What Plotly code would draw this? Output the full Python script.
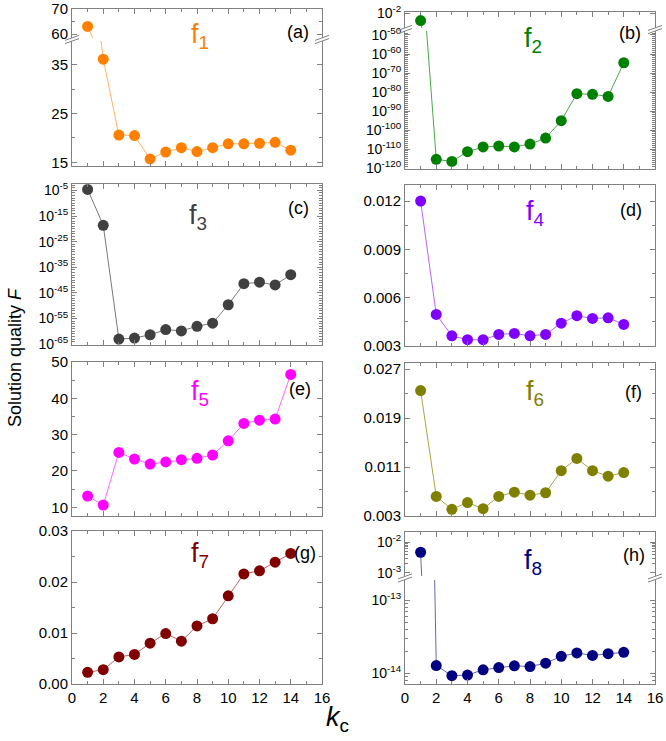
import plotly.graph_objects as go

W, H = 666, 741

# ---------------- data ----------------
k = list(range(1, 15))
f1 = [63.1, 36.2, 20.6, 20.5, 15.7, 17.1, 18.0, 17.2, 18.0, 18.8, 18.8, 18.9, 19.1, 17.5]
f2 = [1e-6, 4e-116, 3e-117, 4e-112, 1.3e-109, 4e-109, 1.3e-109, 4e-108, 6e-105, 8e-96,
      1.3e-81, 6e-82, 5e-83, 2.5e-65]
f3 = [2.5e-5, 2.5e-19, 1e-63, 2.5e-63, 5e-62, 5e-60, 1.6e-60, 1e-58, 1.6e-57, 2.5e-50,
      4e-42, 1.6e-41, 1.3e-42, 1.3e-38]
f4 = [0.0120, 0.00496, 0.00363, 0.00339, 0.00339, 0.00372, 0.00378, 0.00363, 0.00372,
      0.00442, 0.00488, 0.00471, 0.00475, 0.00434]
f5 = [13.1, 10.6, 25.1, 23.3, 21.9, 22.5, 23.1, 23.5, 24.4, 28.3, 33.1, 34.0, 34.3, 46.6]
f6 = [0.0235, 0.0062, 0.0041, 0.0052, 0.0042, 0.0062, 0.0069, 0.0064, 0.0068, 0.0104,
      0.0124, 0.0104, 0.0095, 0.0101]
f7 = [0.0023, 0.0028, 0.0053, 0.0058, 0.0080, 0.0099, 0.0084, 0.0114, 0.0128, 0.0173,
      0.0216, 0.0222, 0.0239, 0.0256]
f8 = [4.7e-3, 1.27e-14, 0.92e-14, 0.94e-14, 1.11e-14, 1.19e-14, 1.26e-14, 1.23e-14,
      1.37e-14, 1.70e-14, 1.89e-14, 1.75e-14, 1.85e-14, 1.93e-14]

panel_names = ["f<sub>1</sub>", "f<sub>2</sub>", "f<sub>3</sub>", "f<sub>4</sub>",
               "f<sub>5</sub>", "f<sub>6</sub>", "f<sub>7</sub>", "f<sub>8</sub>"]
panel_tags = ["(a)", "(b)", "(c)", "(d)", "(e)", "(f)", "(g)", "(h)"]
colors = ["#FF8000", "#008000", "#404040", "#8000FF", "#FF00FF", "#808000", "#800000", "#000080"]
line_colors = ["rgba(255,128,0,0.6)", "rgba(0,128,0,0.7)", "rgba(64,64,64,0.7)",
               "rgba(128,0,255,0.6)", "rgba(255,0,255,0.6)", "rgba(128,128,0,0.7)",
               "rgba(128,0,0,0.6)", "rgba(0,0,128,0.6)"]

x_tickvals = [0, 2, 4, 6, 8, 10, 12, 14, 16]

# ---------------- helpers ----------------
AX = "#808080"
FONT = "Liberation Sans, Arial, sans-serif"
LIN_FONT = dict(size=15, color="black", family=FONT)
LOG_FONT = dict(size=14, color="black", family=FONT)


def fx(p):
    return p / W


def fy(p):
    return 1 - p / H


fig = go.Figure()
layout = {}
counter = [0]


def sup_label(e):
    return "10<sup>%d</sup>" % e


def add_axes(xpx, ypx, yopts, xopts, series, idx, clip=True):
    counter[0] += 1
    i = counter[0]
    xa = "xaxis" if i == 1 else "xaxis%d" % i
    ya = "yaxis" if i == 1 else "yaxis%d" % i
    xr = "x" if i == 1 else "x%d" % i
    yr = "y" if i == 1 else "y%d" % i
    bx = dict(domain=[fx(xpx[0]), fx(xpx[1])], anchor=yr, range=[0, 16], automargin=False,
              showgrid=False, zeroline=False, showline=True, linecolor=AX, linewidth=1,
              ticks="inside", ticklen=5, tickcolor=AX, tickmode="array",
              tickvals=x_tickvals, mirror="ticks", ticklabeloverflow="allow",
              minor=dict(tickmode="linear", tick0=0, dtick=1, ticks="inside", ticklen=3, tickcolor=AX),
              showticklabels=False, tickfont=LIN_FONT)
    bx.update(xopts)
    by = dict(domain=[fy(ypx[1]), fy(ypx[0])], anchor=xr, showgrid=False, zeroline=False,
              automargin=False, showline=True, mirror="ticks", linecolor=AX, linewidth=1,
              ticks="inside", ticklen=5, tickcolor=AX, tickfont=LIN_FONT,
              ticklabeloverflow="allow")
    by.update(yopts)
    layout[xa] = bx
    layout[ya] = by
    fig.add_trace(go.Scatter(x=k, y=series, xaxis=xr, yaxis=yr, mode="lines+markers",
                             line=dict(color=line_colors[idx], width=1),
                             marker=dict(color=colors[idx], size=11),
                             cliponaxis=clip, showlegend=False, hoverinfo="x+y"))


def minor_arr(vals):
    return dict(tickmode="array", tickvals=vals, ticks="inside", ticklen=3, tickcolor=AX)


LX = (72, 322)
RX = (405, 655)
top_x = dict(side="top", mirror=False)
bot_x = dict(mirror=False)
bottom_labels = dict(showticklabels=True)

# (a) broken linear
add_axes(LX, (9, 38), dict(range=[58.5, 70.02], tickmode="array", tickvals=[60, 70],
                           minor=minor_arr([65])), top_x, f1, 0)
add_axes(LX, (41, 166), dict(range=[14.24, 39.93], tickmode="array", tickvals=[15, 25, 35],
                             minor=minor_arr([20, 30])), bot_x, f1, 0)

# (b) broken log
add_axes(RX, (12, 28), dict(type="log", range=[-9.9, -1.47], tickmode="array",
                            tickvals=[1e-2], ticktext=[sup_label(-2)], tickfont=LOG_FONT),
         top_x, f2, 1)
b_major = [-50, -60, -70, -80, -90, -100, -110, -120]
add_axes(RX, (31, 169), dict(type="log", range=[-120.5, -47.9], tickmode="array",
                             tickvals=[10.0 ** e for e in b_major],
                             ticktext=[sup_label(e) for e in b_major], tickfont=LOG_FONT,
                             minor=minor_arr([10.0 ** e for e in range(-120, -47)])),
         bot_x, f2, 1)

# (c) log
c_major = [-5, -15, -25, -35, -45, -55, -65]
add_axes(LX, (184, 345), dict(type="log", range=[-65.3, -2.5], tickmode="array",
                              tickvals=[10.0 ** e for e in c_major],
                              ticktext=[sup_label(e) for e in c_major], tickfont=LOG_FONT,
                              minor=minor_arr([10.0 ** e for e in range(-65, -2)])),
         {}, f3, 2, clip=False)

# (d)
add_axes(RX, (185, 346), dict(range=[0.003, 0.013], tickmode="array",
                              tickvals=[0.003, 0.006, 0.009, 0.012], tickformat=".3f",
                              minor=minor_arr([0.0045, 0.0075, 0.0105])),
         {}, f4, 3, clip=False)

# (e)
add_axes(LX, (362, 516), dict(range=[7.6, 50.02], tickmode="array",
                              tickvals=[10, 20, 30, 40, 50],
                              minor=minor_arr([15, 25, 35, 45])),
         {}, f5, 4, clip=False)

# (f)
add_axes(RX, (363, 516), dict(range=[0.003, 0.028], tickmode="array",
                              tickvals=[0.003, 0.011, 0.019, 0.027], tickformat=".3f",
                              minor=minor_arr([0.007, 0.015, 0.023])),
         {}, f6, 5, clip=False)

# (g)
add_axes(LX, (531, 684), dict(range=[0, 0.03001], tickmode="array",
                              tickvals=[0, 0.01, 0.02, 0.03], tickformat=".2f",
                              minor=minor_arr([0.005, 0.015, 0.025])),
         bottom_labels, f7, 6, clip=False)

# (h) broken log
h_up_minor = [m * 1e-3 for m in range(2, 10)] + [2e-2]
add_axes(RX, (532, 576), dict(type="log", range=[-3.1, -1.67], tickmode="array",
                              tickvals=[1e-2, 1e-3], ticktext=[sup_label(-2), sup_label(-3)],
                              tickfont=LOG_FONT, minor=minor_arr(h_up_minor)),
         top_x, f8, 7)
h_lo_minor = [m * 1e-15 for m in (8, 9)] + [m * 1e-14 for m in range(2, 10)] + [2e-13]
add_axes(RX, (580, 684), dict(type="log", range=[-14.15, -12.72], tickmode="array",
                              tickvals=[1e-14, 1e-13], ticktext=[sup_label(-14), sup_label(-13)],
                              tickfont=LOG_FONT, minor=minor_arr(h_lo_minor)),
         dict(mirror=False, showticklabels=True), f8, 7)

# ---------------- annotations ----------------
annotations = []
panel_geo = [  # (title x, title y, tag x, tag y) in pixels
    (200, 36, 298, 32),
    (533, 40, 630, 33),
    (198, 217, 298, 208),
    (535, 213, 631, 210),
    (200, 393, 300, 389),
    (535, 393, 633, 392),
    (200, 555, 305, 553),
    (533, 562, 634, 555),
]
for (tx, ty, gx, gy), name, tag, col in zip(panel_geo, panel_names, panel_tags, colors):
    annotations.append(dict(x=fx(tx), y=fy(ty), xref="paper", yref="paper", text=name,
                            showarrow=False, xanchor="center", yanchor="middle",
                            font=dict(size=27, color=col, family=FONT)))
    annotations.append(dict(x=fx(gx), y=fy(gy), xref="paper", yref="paper", text=tag,
                            showarrow=False, xanchor="center", yanchor="middle",
                            font=dict(size=18, color="black", family=FONT)))

annotations.append(dict(x=fx(15), y=fy(358), xref="paper", yref="paper",
                        text="Solution quality <i>F</i>", textangle=-90, showarrow=False,
                        xanchor="center", yanchor="middle",
                        font=dict(size=18, color="black", family=FONT)))
annotations.append(dict(x=fx(337), y=fy(719), xref="paper", yref="paper",
                        text="<i>k</i><sub>c</sub>", showarrow=False,
                        xanchor="center", yanchor="middle",
                        font=dict(size=27, color="black", family=FONT)))

# break marks
shapes = []
for yc, xs_list in [(39.5, LX), (29.5, RX), (578, RX)]:
    for xs in xs_list:
        for d in (-1.6, 1.6):
            shapes.append(dict(type="line", xref="paper", yref="paper",
                               x0=fx(xs - 7), y0=fy(yc + 2.5 + d),
                               x1=fx(xs + 7), y1=fy(yc - 2.5 + d),
                               line=dict(color=AX, width=1)))

fig.update_layout(width=W, height=H, margin=dict(l=0, r=0, t=0, b=0, autoexpand=False),
                  paper_bgcolor="white", plot_bgcolor="white",
                  font=dict(family=FONT, color="black"),
                  annotations=annotations, shapes=shapes, **layout)

fig.write_html("out.html", config={"displayModeBar": False},
               post_script="document.body.style.margin='0px';document.body.style.overflow='hidden';")
